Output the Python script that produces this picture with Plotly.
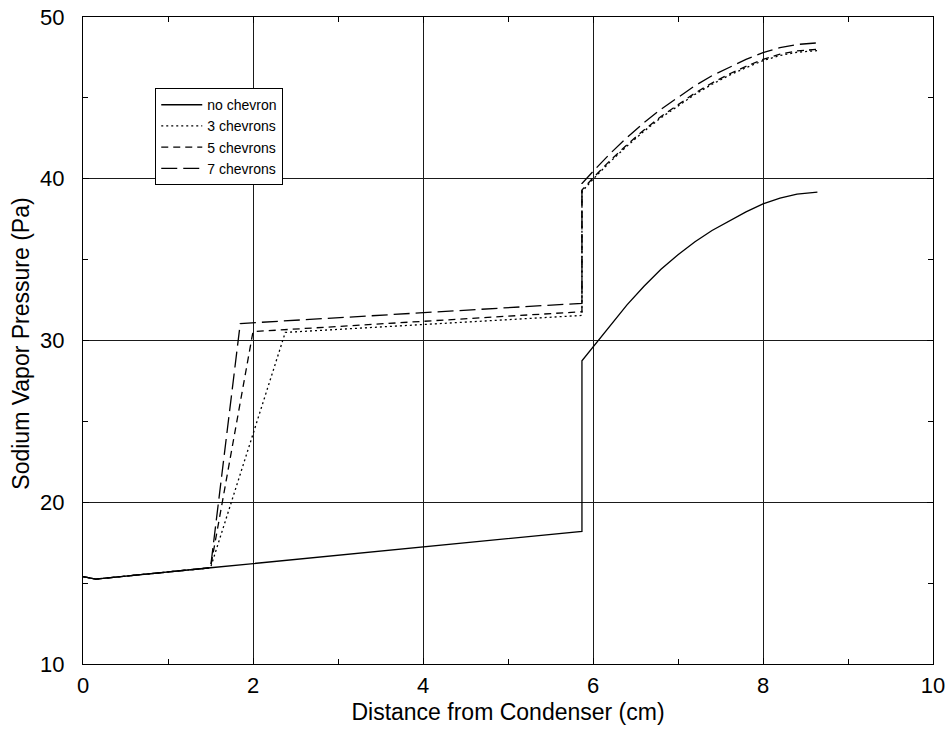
import plotly.graph_objects as go

# ---- data ----
x_none = [0, 0.15, 1.5, 3.0, 4.5, 5.87, 5.87, 6.0, 6.2, 6.4, 6.6, 6.8, 7.0, 7.2, 7.4, 7.6, 7.8, 8.0, 8.2, 8.4, 8.64]
y_none = [15.4, 15.25, 15.95, 16.72, 17.5, 18.2, 28.75, 29.6, 30.95, 32.2, 33.35, 34.4, 35.3, 36.1, 36.8, 37.4, 37.95, 38.45, 38.8, 39.05, 39.17]

x_3 = [0, 0.15, 1.5, 2.38, 5.87, 5.87, 6.0, 6.2, 6.4, 6.6, 6.8, 7.0, 7.2, 7.4, 7.6, 7.8, 8.0, 8.2, 8.4, 8.64]
y_3 = [15.4, 15.25, 15.95, 30.5, 31.55, 39.2, 39.97, 41.04, 42.02, 42.94, 43.77, 44.52, 45.22, 45.84, 46.39, 46.87, 47.3, 47.62, 47.82, 47.92]

x_5 = [0, 0.15, 1.5, 2.0, 5.87, 5.87, 6.0, 6.2, 6.4, 6.6, 6.8, 7.0, 7.2, 7.4, 7.6, 7.8, 8.0, 8.2, 8.4, 8.64]
y_5 = [15.4, 15.25, 15.95, 30.55, 31.78, 39.3, 40.05, 41.12, 42.1, 43.02, 43.85, 44.6, 45.3, 45.92, 46.47, 46.95, 47.38, 47.7, 47.9, 48.0]

x_7 = [0, 0.15, 1.5, 1.85, 5.87, 5.87, 6.0, 6.2, 6.4, 6.6, 6.8, 7.0, 7.2, 7.4, 7.6, 7.8, 8.0, 8.2, 8.4, 8.64]
y_7 = [15.4, 15.25, 15.95, 31.05, 32.3, 39.7, 40.45, 41.55, 42.55, 43.47, 44.3, 45.05, 45.75, 46.37, 46.9, 47.38, 47.8, 48.1, 48.3, 48.4]

series_names = ["no chevron", "3 chevrons", "5 chevrons", "7 chevrons"]
x_ticks = [0, 2, 4, 6, 8, 10]
y_ticks = [10, 20, 30, 40, 50]

FONT = "Liberation Sans, Arial, Helvetica, sans-serif"

fig = go.Figure()
styles = ["solid", "2px,3px", "7px,5px", "16px,6px"]
for name, xs, ys, dash in zip(series_names, [x_none, x_3, x_5, x_7], [y_none, y_3, y_5, y_7], styles):
    fig.add_trace(go.Scatter(x=xs, y=ys, mode="lines", name=name,
                             line=dict(color="black", width=1.3, dash=dash)))

axis_common = dict(
    showline=True, linecolor="black", linewidth=1, mirror="ticks",
    ticks="inside", ticklen=6, tickcolor="black",
    showgrid=True, gridcolor="#1a1a1a", gridwidth=1,
    zeroline=False, automargin=False,
    tickfont=dict(family=FONT, size=22, color="black"),
)

fig.update_xaxes(range=[0, 10], tickvals=x_ticks, ticktext=[str(v) for v in x_ticks],
                 ticklabelstandoff=2,
                 minor=dict(dtick=1, ticks="inside", ticklen=5, tickcolor="black", showgrid=False),
                 title=dict(text="Distance from Condenser (cm)", font=dict(family=FONT, size=23, color="black"), standoff=6),
                 **axis_common)
fig.update_yaxes(range=[10, 50], tickvals=y_ticks, ticktext=[str(v) for v in y_ticks],
                 ticklabelstandoff=13,
                 minor=dict(dtick=5, ticks="inside", ticklen=5, tickcolor="black", showgrid=False),
                 **axis_common)

fig.update_layout(
    width=952, height=733,
    margin=dict(l=83, r=19, t=17, b=69),
    paper_bgcolor="white", plot_bgcolor="white",
    showlegend=True,
    legend=dict(x=0.085, y=0.89, xanchor="left", yanchor="top",
                bgcolor="white", bordercolor="black", borderwidth=1,
                font=dict(family=FONT, size=14, color="black"),
                tracegroupgap=0, itemwidth=41),
    annotations=[dict(text="Sodium Vapor Pressure (Pa)", textangle=-90,
                      xref="paper", yref="paper", x=-0.073, y=0.495,
                      xanchor="center", yanchor="middle", showarrow=False,
                      font=dict(family=FONT, size=23, color="black"))],
)

fig.write_html("out.html")
